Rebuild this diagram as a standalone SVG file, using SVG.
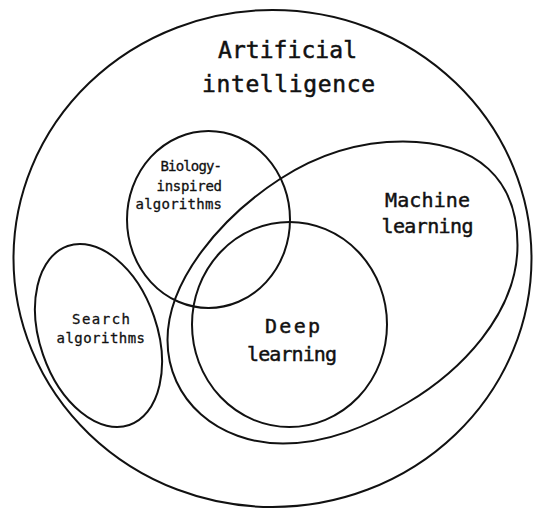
<svg xmlns="http://www.w3.org/2000/svg" width="533" height="510" viewBox="0 0 533 510">
  <style>
    .set { fill: none; stroke: #111; stroke-width: 2; }
    .lbl { font-family: "DejaVu Sans Mono", "Liberation Mono", monospace; fill: #111; stroke: #111; }
    .big { font-size: 23px; stroke-width: 0.5; }
    .mid { font-size: 20px; stroke-width: 0.45; }
    .small { font-size: 14px; stroke-width: 0.3; }
  </style>
  <rect width="533" height="510" fill="#fff"/>

  <!-- Artificial intelligence: outer set -->
  <g id="ai">
    <ellipse class="set" cx="272.5" cy="258.5" rx="259" ry="248.5"/>
    <text class="lbl big" x="218" y="58" textLength="139" lengthAdjust="spacing">Artificial</text>
    <text class="lbl big" x="202" y="91.5" textLength="173" lengthAdjust="spacing">intelligence</text>
  </g>

  <!-- Biology-inspired algorithms -->
  <g id="bio">
    <ellipse class="set" cx="208.5" cy="219.5" rx="81.5" ry="88.5"/>
    <text class="lbl small" x="160.5" y="171" textLength="61.5" lengthAdjust="spacing">Biology-</text>
    <text class="lbl small" x="156.5" y="190.5" textLength="65.5" lengthAdjust="spacing">inspired</text>
    <text class="lbl small" x="135.5" y="208.5" textLength="86.5" lengthAdjust="spacing">algorithms</text>
  </g>

  <!-- Search algorithms -->
  <g id="search">
    <ellipse class="set" cx="98.5" cy="335.5" rx="58.7" ry="94.6" transform="rotate(-19 98.5 335.5)"/>
    <text class="lbl small" x="72" y="323.5" textLength="58" lengthAdjust="spacing">Search</text>
    <text class="lbl small" x="56.5" y="343" textLength="88.5" lengthAdjust="spacing">algorithms</text>
  </g>

  <!-- Machine learning -->
  <g id="ml">
    <path class="set" d="M 403 141.5 C 478 141.5, 517.5 180, 517.5 245 C 517.5 315, 458.6 372.4, 407 403 C 368.3 426, 328 443.5, 283 443.5 C 218 443.5, 167.5 400, 167.5 340 C 167.5 280, 221.3 217.2, 280 179 C 317.7 154.5, 358 141.5, 403 141.5 Z"/>
    <text class="lbl mid" x="385" y="206.5" textLength="85" lengthAdjust="spacing">Machine</text>
    <text class="lbl mid" x="381.5" y="233" textLength="92" lengthAdjust="spacing">learning</text>
  </g>

  <!-- Deep learning -->
  <g id="dl">
    <ellipse class="set" cx="289.5" cy="324.5" rx="97.5" ry="102.5"/>
    <text class="lbl mid" x="265" y="333" textLength="55" lengthAdjust="spacing">Deep</text>
    <text class="lbl mid" x="247" y="360.5" textLength="90" lengthAdjust="spacing">learning</text>
  </g>
</svg>
